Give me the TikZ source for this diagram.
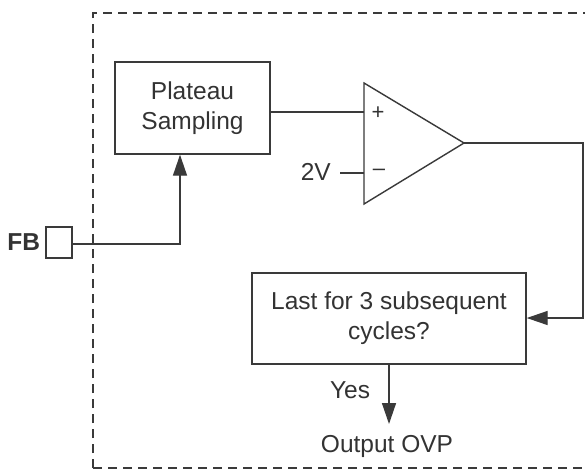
\documentclass[tikz,border=0pt]{standalone}
\usepackage{fontspec}
\setmainfont{Liberation Sans}
\usetikzlibrary{arrows.meta}
\definecolor{ln}{HTML}{3A3A3A}
\definecolor{tx}{HTML}{333333}
\begin{document}
\begin{tikzpicture}[x=1pt,y=-1pt,
  wire/.style={draw=ln,line width=1.4pt},
  arr/.style={wire,-{Triangle[length=21pt,width=14pt]}},
  blockbox/.style={draw=ln,line width=1.4pt,inner sep=0pt,align=center,text=tx,font=\fontsize{24.5}{30}\selectfont},
  lbl/.style={text=tx,font=\fontsize{24.5}{30}\selectfont,inner sep=0pt}]
\useasboundingbox (0,0) rectangle (585,472);
\fill[white] (0,0) rectangle (585,472);
% dashed frame
\draw[ln,line width=1.6pt,dash pattern=on 9pt off 6pt] (93,468) -- (93,13) -- (600,13);
\draw[ln,line width=1.6pt,dash pattern=on 9pt off 6pt] (93,468) -- (600,468);
% blocks
\node[blockbox,minimum width=155pt,minimum height=92pt] (ps) at (192.5,108) {Plateau\\Sampling};
\node[blockbox,minimum width=274pt,minimum height=91pt] (last) at (389,318.5) {Last for 3 subsequent\\cycles?};
\node[draw=ln,line width=1.4pt,minimum width=26pt,minimum height=31pt,inner sep=0pt] (fb) at (59,242.5) {};
\node[lbl,font=\fontsize{24.5}{30}\selectfont\bfseries,anchor=east] (fbl) at ([xshift=-5pt]fb.west) {FB};
% op-amp
\coordinate (oa1) at (364,83);
\coordinate (oa2) at (364,204);
\coordinate (oaout) at (464,143);
\draw[wire,line join=miter] (oa1) -- (oaout) -- (oa2) -- cycle;
\coordinate (inp) at (364,112);
\coordinate (inn) at (364,173);
\node[lbl,font=\fontsize{22}{24}\selectfont] (plus) at (378,113) {+};
\node[lbl,font=\fontsize{22}{24}\selectfont] (minus) at (379,172) {\textendash};
\node[lbl,anchor=east] (v2) at (331,172) {2V};
\coordinate (v2e) at (340,173);
\draw[wire] (v2e) -- (inn);
% connections
\draw[wire] (ps.east |- inp) -- (inp);
\coordinate (c1) at (180,244);
\draw[arr] (fb.east |- c1) -- (c1) -- (ps.south -| c1);
\coordinate (rt) at (583,143);
\coordinate (rb) at (583,318);
\draw[arr] (oaout) -- (rt) -- (rb) -- (last.east |- rb);
\coordinate (outp) at (389,424);
\draw[arr] (last.south -| outp) -- (outp);
\node[lbl] (yes) at (350,390) {Yes};
\node[lbl] (ovp) at (387,446) {Output OVP};
\end{tikzpicture}
\end{document}
